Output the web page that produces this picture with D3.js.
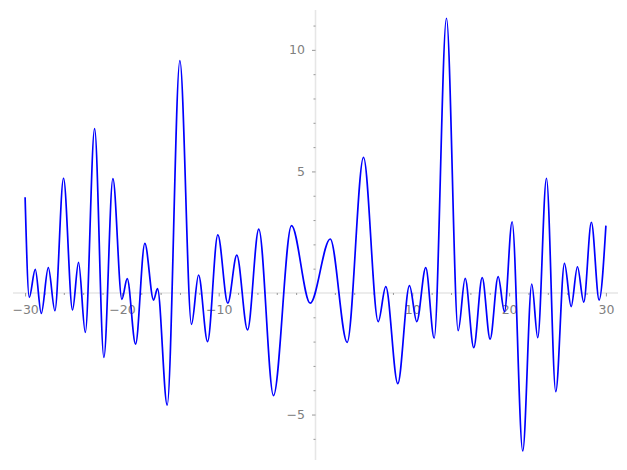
<!DOCTYPE html>
<html>
<head>
<meta charset="utf-8">
<script src="https://cdn.jsdelivr.net/npm/d3@7"></script>
<style>
  html, body { margin: 0; padding: 0; background: #ffffff; }
  svg { display: block; }
</style>
</head>
<body>
<svg id="chart" width="627" height="470"></svg>
<script>
// ---- data (local extrema + end points) ----
const xValues = [
  -30.00, -29.57, -28.95, -28.33, -27.60, -26.92, -26.03, -25.10, -24.48, -23.78,
  -22.82, -21.86, -20.93, -20.00, -19.45, -18.59, -17.63, -16.73, -16.32, -15.32,
  -14.01, -12.81, -12.08, -11.15, -10.09,  -9.06,  -8.13,  -7.02,  -5.86,  -4.34,
   -2.48,  -0.55,   1.52,   3.27,   4.96,   6.48,   7.26,   8.50,   9.71,  10.46,
   11.39,  12.26,  13.53,  14.74,  15.46,  16.35,  17.22,  18.04,  18.87,  19.52,
   20.31,  21.41,  22.34,  22.96,  23.86,  24.82,  25.72,  26.41,  27.06,  27.71,
   28.50,  29.30,  30.00
];
const yValues = [
   3.94, -0.18,  0.97, -0.84,  1.04, -0.73,  4.72, -0.70,  1.26, -1.62,
   6.76, -2.65,  4.70, -0.26,  0.59, -2.10,  2.04, -0.29,  0.18, -4.61,
   9.56, -1.29,  0.74, -2.00,  2.39, -0.42,  1.56, -1.52,  2.63, -4.22,
   2.77, -0.42,  2.22, -2.03,  5.58, -1.18,  0.26, -3.73,  0.30, -1.18,
   1.04, -1.86, 11.30, -1.55,  0.60, -2.25,  0.63, -1.90,  0.67, -0.77,
   2.93, -6.50,  0.37, -1.84,  4.72, -4.06,  1.22, -0.56,  1.08, -0.38,
   2.91, -0.29,  2.77
];
const xMajorTicks = [-30, -20, -10, 10, 20, 30];
const xMinorTicks = d3.range(-28, 30, 2).filter(v => v % 10 !== 0);
const yMajorTicks = [-5, 5, 10];
const yMinorTicks = [-6, -4, -3, -2, -1, 1, 2, 3, 4, 6, 7, 8, 9, 11];

// ---- layout ----
const svg = d3.select("#chart");
const x = d3.scaleLinear().domain([-31.25, 31.25]).range([13, 618]);
const y = d3.scaleLinear().domain([-6.87, 11.64]).range([460, 10]);

const spineColor = "#e6e6e6";
const tickColor = "#8c8c8c";
const labelColor = "#808080";
const fontFamily = "'DejaVu Sans', sans-serif";
const fontSize = "12.5px";

// spines through the origin
svg.append("line")
  .attr("x1", x.range()[0]).attr("x2", x.range()[1])
  .attr("y1", y(0)).attr("y2", y(0))
  .attr("stroke", spineColor).attr("stroke-width", 1.6);
svg.append("line")
  .attr("x1", x(0)).attr("x2", x(0))
  .attr("y1", y.range()[0]).attr("y2", y.range()[1])
  .attr("stroke", spineColor).attr("stroke-width", 1.6);

function styleAxis(g) {
  g.select(".domain").remove();
  g.selectAll(".tick line").attr("stroke", tickColor).attr("stroke-width", 0.9);
  g.selectAll(".tick text")
    .attr("fill", labelColor)
    .style("font-family", fontFamily)
    .style("font-size", fontSize);
}

// x axis
svg.append("g")
  .attr("transform", `translate(0,${y(0)})`)
  .call(d3.axisBottom(x).tickValues(xMinorTicks).tickSize(2).tickFormat(""))
  .call(styleAxis);
svg.append("g")
  .attr("transform", `translate(0,${y(0)})`)
  .call(d3.axisBottom(x).tickValues(xMajorTicks).tickSize(3.5).tickPadding(8.5)
        .tickFormat(d3.format("d")))
  .call(styleAxis);

// y axis
svg.append("g")
  .attr("transform", `translate(${x(0)},0)`)
  .call(d3.axisLeft(y).tickValues(yMinorTicks).tickSize(2).tickFormat(""))
  .call(styleAxis);
svg.append("g")
  .attr("transform", `translate(${x(0)},0)`)
  .call(d3.axisLeft(y).tickValues(yMajorTicks).tickSize(3.5).tickPadding(7)
        .tickFormat(d3.format("d")))
  .call(styleAxis);

// curve
const points = xValues.map((v, i) => [v, yValues[i]]);
const line = d3.line()
  .x(d => x(d[0]))
  .y(d => y(d[1]))
  .curve(d3.curveMonotoneX);

svg.append("path")
  .datum(points)
  .attr("d", line)
  .attr("fill", "none")
  .attr("stroke", "#0000ff")
  .attr("stroke-width", 1.7)
  .attr("stroke-linejoin", "round");
</script>
</body>
</html>
